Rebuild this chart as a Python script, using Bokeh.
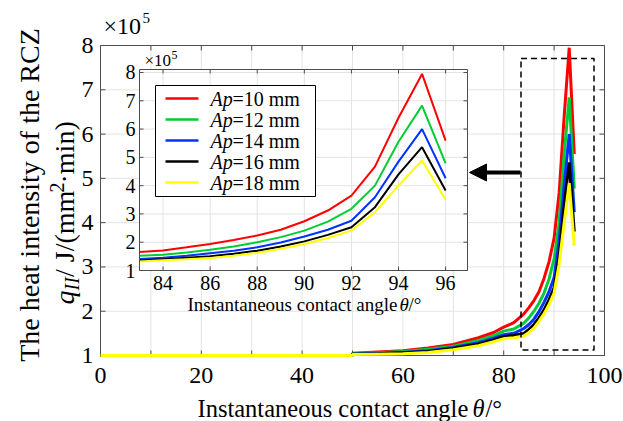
import math
from bokeh.plotting import figure
from bokeh.models import Range1d, Arrow, NormalHead, BoxAnnotation
from bokeh.embed import file_html
from bokeh.resources import INLINE
from bokeh.core.properties import value

# ---------------- data (q in units of 1e5 J/(mm^2*min)) ----------------
ap_values = [10, 12, 14, 16, 18]
colors = ["#ff0000", "#00cc33", "#0033ff", "#000000", "#ffff00"]

main_theta = [0, 50, 50, 55, 60, 65, 70, 75, 78, 80, 82, 84, 85, 86, 87, 88, 89, 90, 91, 92, 93, 94]
q_main_10 = [1.00, 1.00, 1.05, 1.08, 1.11, 1.17, 1.25, 1.40, 1.52, 1.64, 1.74, 1.94, 2.08, 2.24, 2.44, 2.74, 3.12, 3.65, 4.67, 6.40, 7.95, 5.55]
q_main_12 = [1.00, 1.00, 1.04, 1.06, 1.09, 1.14, 1.21, 1.34, 1.45, 1.55, 1.60, 1.73, 1.85, 2.00, 2.18, 2.41, 2.73, 3.18, 4.00, 5.55, 6.83, 4.77]
q_main_14 = [1.00, 1.00, 1.03, 1.05, 1.07, 1.11, 1.18, 1.29, 1.39, 1.47, 1.50, 1.61, 1.70, 1.82, 1.99, 2.20, 2.44, 2.76, 3.59, 4.85, 6.00, 4.24]
q_main_16 = [1.00, 1.00, 1.03, 1.04, 1.06, 1.09, 1.16, 1.26, 1.35, 1.43, 1.45, 1.50, 1.59, 1.70, 1.85, 2.03, 2.26, 2.53, 3.24, 4.40, 5.36, 3.80]
q_main_18 = [1.00, 1.00, 1.02, 1.03, 1.04, 1.07, 1.13, 1.22, 1.31, 1.38, 1.40, 1.44, 1.52, 1.62, 1.77, 1.94, 2.15, 2.41, 3.06, 4.00, 4.89, 3.48]

inset_theta = [83, 84, 85, 86, 87, 88, 89, 90, 91, 92, 93, 94, 95, 96]
q_inset_10 = [1.65, 1.71, 1.82, 1.94, 2.08, 2.24, 2.44, 2.74, 3.12, 3.65, 4.67, 6.40, 7.95, 5.59]
q_inset_12 = [1.52, 1.56, 1.64, 1.73, 1.85, 2.00, 2.18, 2.41, 2.73, 3.18, 4.00, 5.55, 6.83, 4.79]
q_inset_14 = [1.41, 1.45, 1.52, 1.61, 1.70, 1.82, 1.99, 2.20, 2.44, 2.76, 3.59, 4.85, 6.00, 4.26]
q_inset_16 = [1.35, 1.40, 1.45, 1.50, 1.59, 1.70, 1.85, 2.03, 2.26, 2.53, 3.24, 4.40, 5.36, 3.83]
q_inset_18 = [1.32, 1.36, 1.40, 1.44, 1.52, 1.62, 1.77, 1.94, 2.15, 2.41, 3.06, 4.00, 4.89, 3.50]

main_xticks = [0, 20, 40, 60, 80, 100]
main_xminor = [10, 30, 50, 70, 90]
main_yticks = [1, 2, 3, 4, 5, 6, 7, 8]
inset_xticks = [84, 86, 88, 90, 92, 94, 96]
inset_yticks = [1, 2, 3, 4, 5, 6, 7, 8]

main_series = [q_main_10, q_main_12, q_main_14, q_main_16, q_main_18]
inset_series = [q_inset_10, q_inset_12, q_inset_14, q_inset_16, q_inset_18]

# ---------------- layout constants ----------------
FONT = "Liberation Serif"
AX = "#4d4d4d"
GRID = "#e3e3e3"
W, H = 623, 421
FL, FR, FT, FB = 100, 604, 45, 355          # main axes box in pixels
mx0, mx1, my0, my1 = 0.0, 100.0, 1.0, 8.0
sxm = (FR - FL) / (mx1 - mx0)
sym = (FB - FT) / (my1 - my0)

def X(px):
    return mx0 + (px - FL) / sxm

def Y(py):
    return my0 + (FB - py) / sym

# inset axes box (pixels) and its data extent
IL, IR, IT, IB = 139, 467, 69, 270
ix0, ix1 = 83.0, 96.93
iy0, iy1 = 1.0, 8.106
sx = (IR - IL) / (ix1 - ix0)
sy = (IB - IT) / (iy1 - iy0)

p = figure(width=W, height=H,
           x_range=Range1d(X(0), X(W)), y_range=Range1d(Y(H), Y(0)),
           output_backend="svg", toolbar_location=None, min_border=0,
           min_border_left=0, min_border_right=0, min_border_top=0, min_border_bottom=0)
p.extra_x_ranges = {"ix": Range1d(ix0 - IL / sx, ix0 + (W - IL) / sx)}
p.extra_y_ranges = {"iy": Range1d(iy0 - (H - IB) / sy, iy0 + IB / sy)}
p.xaxis.visible = False
p.yaxis.visible = False
p.xgrid.visible = False
p.ygrid.visible = False
p.outline_line_color = None
p.background_fill_color = "white"
p.border_fill_color = "white"

# ---------------- main axes ----------------
all_x = sorted(main_xticks + main_xminor)
gx = [v for v in all_x if mx0 < v < mx1]
gy = [v for v in main_yticks if my0 < v < my1]
p.segment(x0=gx, y0=[my0] * len(gx), x1=gx, y1=[my1] * len(gx), line_color=GRID, line_width=1)
p.segment(x0=[mx0] * len(gy), y0=gy, x1=[mx1] * len(gy), y1=gy, line_color=GRID, line_width=1)
tx, ty = 5 / sxm, 5 / sym
p.segment(x0=all_x, y0=[my0] * len(all_x), x1=all_x, y1=[my0 + ty] * len(all_x), line_color=AX)
p.segment(x0=all_x, y0=[my1] * len(all_x), x1=all_x, y1=[my1 - ty] * len(all_x), line_color=AX)
p.segment(x0=[mx0] * len(main_yticks), y0=main_yticks, x1=[mx0 + tx] * len(main_yticks), y1=main_yticks, line_color=AX)
p.segment(x0=[mx1] * len(main_yticks), y0=main_yticks, x1=[mx1 - tx] * len(main_yticks), y1=main_yticks, line_color=AX)
p.quad(left=[mx0], right=[mx1], bottom=[my0], top=[my1], fill_color=None, line_color=AX, line_width=1)

p.text(x=main_xticks, y=[my0] * len(main_xticks), text=[str(v) for v in main_xticks],
       text_align="center", text_baseline="middle", y_offset=20,
       text_font=value(FONT), text_font_size="24px", text_color="black")
p.text(x=[mx0] * len(main_yticks), y=main_yticks, text=[str(v) for v in main_yticks],
       text_align="right", text_baseline="middle", x_offset=-7,
       text_font=value(FONT), text_font_size="24px", text_color="black")

for q, c in zip(main_series, colors):
    p.line(main_theta, q, line_width=3, color=c)

# dashed zoom box and arrow
p.add_layout(BoxAnnotation(left=X(520.5), right=X(593.5), top=Y(58), bottom=Y(349.5),
                           fill_alpha=0, line_alpha=1, line_color="black", line_width=1.5,
                           line_dash="6 4"))
p.add_layout(Arrow(end=NormalHead(size=17, fill_color="black", line_color="black"),
                   x_start=X(520), y_start=Y(172), x_end=X(469), y_end=Y(172),
                   line_width=4, line_color="black"))

# ---------------- inset ----------------
kw = dict(x_range_name="ix", y_range_name="iy")
p.quad(left=[ix0], right=[ix1], bottom=[iy0], top=[iy1], fill_color="white", line_color=None, **kw)
nx, ny = len(inset_xticks), len(inset_yticks)
p.segment(x0=inset_xticks, y0=[iy0] * nx, x1=inset_xticks, y1=[iy1] * nx, line_color=GRID, line_width=1, **kw)
p.segment(x0=[ix0] * ny, y0=inset_yticks, x1=[ix1] * ny, y1=inset_yticks, line_color=GRID, line_width=1, **kw)
tlx, tly = 4 / sx, 4 / sy
p.segment(x0=inset_xticks, y0=[iy0] * nx, x1=inset_xticks, y1=[iy0 + tly] * nx, line_color=AX, **kw)
p.segment(x0=inset_xticks, y0=[iy1] * nx, x1=inset_xticks, y1=[iy1 - tly] * nx, line_color=AX, **kw)
p.segment(x0=[ix0] * ny, y0=inset_yticks, x1=[ix0 + tlx] * ny, y1=inset_yticks, line_color=AX, **kw)
p.segment(x0=[ix1] * ny, y0=inset_yticks, x1=[ix1 - tlx] * ny, y1=inset_yticks, line_color=AX, **kw)

for q, c in zip(inset_series, colors):
    p.line(inset_theta, q, line_width=2, color=c, **kw)

p.quad(left=[ix0], right=[ix1], bottom=[iy0], top=[iy1], fill_color=None, line_color=AX, line_width=1, **kw)

p.text(x=[ix0] * ny, y=inset_yticks, text=[str(v) for v in inset_yticks], text_align="right",
       text_baseline="middle", x_offset=-4, text_font=value(FONT), text_font_size="20px",
       text_color="black", **kw)
p.text(x=inset_xticks, y=[iy0] * nx, text=[str(v) for v in inset_xticks], text_align="center",
       text_baseline="middle", y_offset=12, text_font=value(FONT), text_font_size="20px",
       text_color="black", **kw)

# legend inside inset
p.quad(left=[X(155)], right=[X(315)], top=[Y(85)], bottom=[Y(196)], fill_color="white",
       line_color="black", line_width=1)
rows = [98, 119, 140, 161, 182]
p.segment(x0=[X(165)] * 5, x1=[X(198)] * 5, y0=[Y(r) for r in rows], y1=[Y(r) for r in rows],
          line_color=colors, line_width=2.5)

def txt(text, xp, yp, size, italic=False, align="left", angle=0.0):
    p.text(x=[X(xp)], y=[Y(yp)], text=[text], text_font=value(FONT), text_font_size=size,
           text_font_style="italic" if italic else "normal", text_align=align,
           text_baseline="middle", angle=angle, text_color="black")

for r, a in zip(rows, ap_values):
    txt("Ap", 210, r, "20px", italic=True)
    txt("=%d mm" % a, 232, r, "20px")

# multipliers
txt("\u00d710", 103, 25, "24px")
txt("5", 142, 17, "15px")
txt("\u00d710", 144, 60, "17px")
txt("5", 171, 54, "12px")

# inset x label
txt("Instantaneous contact angle", 187, 304, "19px")
txt("\u03b8", 399, 304, "19px", italic=True)
txt("/\u00b0", 408, 304, "19px")

# main x label
txt("Instantaneous contact angle", 197, 408, "24.5px")
txt("\u03b8", 472, 408, "24.5px", italic=True)
txt("/\u00b0", 485, 408, "24.5px")

# y label (rotated, reads bottom to top)
R = math.pi / 2
txt("The heat intensity of the RCZ", 29, 194.5, "28px", align="center", angle=R)
y0 = 304
txt("q", 64, y0, "28px", italic=True, angle=R)
txt("II", 71, y0 - 14, "20px", italic=True, angle=R)
txt("/ J/(mm", 64, y0 - 27.5, "28px", angle=R)
txt("2", 56, y0 - 112, "20px", angle=R)
txt("\u00b7min)", 64, y0 - 121, "28px", angle=R)

open("out.html", "w").write(file_html(p, INLINE))
